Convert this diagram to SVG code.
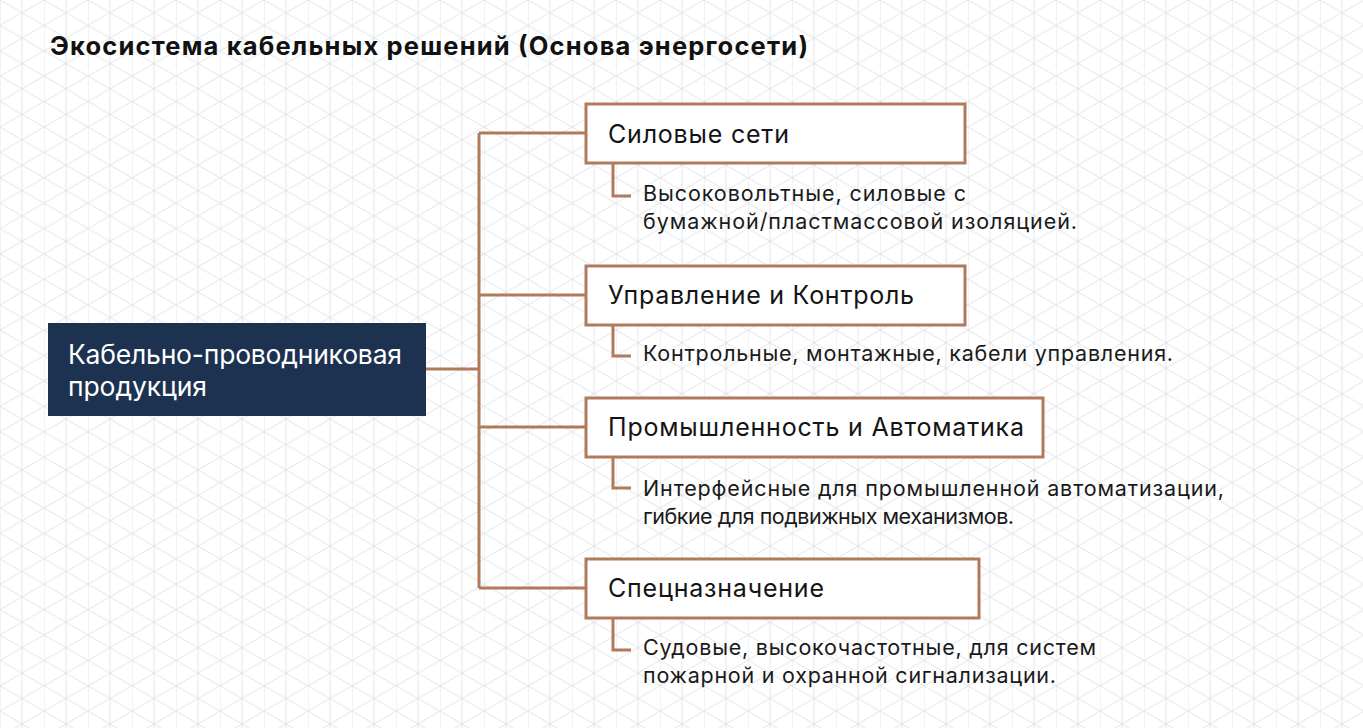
<svg xmlns="http://www.w3.org/2000/svg" width="1363" height="728" viewBox="0 0 1363 728">
  <defs>
    <pattern id="grid" x="0" y="0" width="44" height="25.4" patternUnits="userSpaceOnUse">
      <g stroke="#e3e5e9" stroke-width="1" fill="none">
        <line x1="0" y1="0" x2="0" y2="25.4"/>
        <line x1="22" y1="0" x2="22" y2="25.4"/>
        <line x1="0" y1="0" x2="44" y2="25.4"/>
        <line x1="0" y1="25.4" x2="44" y2="0"/>
        <line x1="-44" y1="0" x2="0" y2="25.4"/>
        <line x1="44" y1="25.4" x2="88" y2="0"/>
      </g>
    </pattern>
    <style>
      .title { font-family: Inter, "Liberation Sans", sans-serif; font-weight: 700; font-size: 25.5px; fill: #111111; }
      .box { fill: #ffffff; stroke: #b27a5c; stroke-width: 3; }
      .main { fill: #1d3150; }
      .mainText { font-family: Inter, "Liberation Sans", sans-serif; font-size: 26.5px; fill: #ffffff; }
      .boxText { font-family: Inter, "Liberation Sans", sans-serif; font-size: 25px; fill: #141414; }
      .desc { font-family: Inter, "Liberation Sans", sans-serif; font-size: 21.5px; fill: #1a1a1a; }
      .conn { fill: none; stroke: #b27a5c; stroke-width: 3; }
    </style>
  </defs>
  <rect x="0" y="0" width="1363" height="728" fill="#ffffff"/>
  <rect x="0" y="0" width="1363" height="728" fill="url(#grid)"/>

  <text class="title" x="50" y="55" textLength="758">Экосистема кабельных решений (Основа энергосети)</text>

  <g id="connectors">
    <path class="conn" d="M426 369 H479"/>
    <path class="conn" d="M479 133 V588"/>
    <path class="conn" d="M479 133 H586"/>
    <path class="conn" d="M479 295 H586"/>
    <path class="conn" d="M479 427 H586"/>
    <path class="conn" d="M479 588 H586"/>
    <path class="conn" d="M613 163 V196 H631"/>
    <path class="conn" d="M613 325 V356 H631"/>
    <path class="conn" d="M613 457 V488 H631"/>
    <path class="conn" d="M613 618 V650 H631"/>
  </g>

  <g id="node-main">
    <rect class="main" x="48" y="323" width="378" height="93"/>
    <text class="mainText" x="68" y="364" textLength="334">Кабельно-проводниковая</text>
    <text class="mainText" x="68" y="396" textLength="139">продукция</text>
  </g>

  <g id="node-power">
    <rect class="box" x="586" y="104" width="379" height="59"/>
    <text class="boxText" x="608" y="143" textLength="181">Силовые сети</text>
  </g>
  <g id="desc-power">
    <text class="desc" x="643" y="201" textLength="323">Высоковольтные, силовые с</text>
    <text class="desc" x="643" y="229" textLength="434">бумажной/пластмассовой изоляцией.</text>
  </g>

  <g id="node-control">
    <rect class="box" x="586" y="266" width="379" height="59"/>
    <text class="boxText" x="608" y="304" textLength="306">Управление и Контроль</text>
  </g>
  <g id="desc-control">
    <text class="desc" x="643" y="361" textLength="530">Контрольные, монтажные, кабели управления.</text>
  </g>

  <g id="node-industry">
    <rect class="box" x="586" y="398" width="457" height="59"/>
    <text class="boxText" x="608" y="436" textLength="416">Промышленность и Автоматика</text>
  </g>
  <g id="desc-industry">
    <text class="desc" x="643" y="496" textLength="581">Интерфейсные для промышленной автоматизации,</text>
    <text class="desc" x="643" y="524" textLength="371">гибкие для подвижных механизмов.</text>
  </g>

  <g id="node-special">
    <rect class="box" x="586" y="559" width="393" height="59"/>
    <text class="boxText" x="608" y="597" textLength="216">Спецназначение</text>
  </g>
  <g id="desc-special">
    <text class="desc" x="643" y="655" textLength="453">Судовые, высокочастотные, для систем</text>
    <text class="desc" x="643" y="683" textLength="413">пожарной и охранной сигнализации.</text>
  </g>
</svg>
